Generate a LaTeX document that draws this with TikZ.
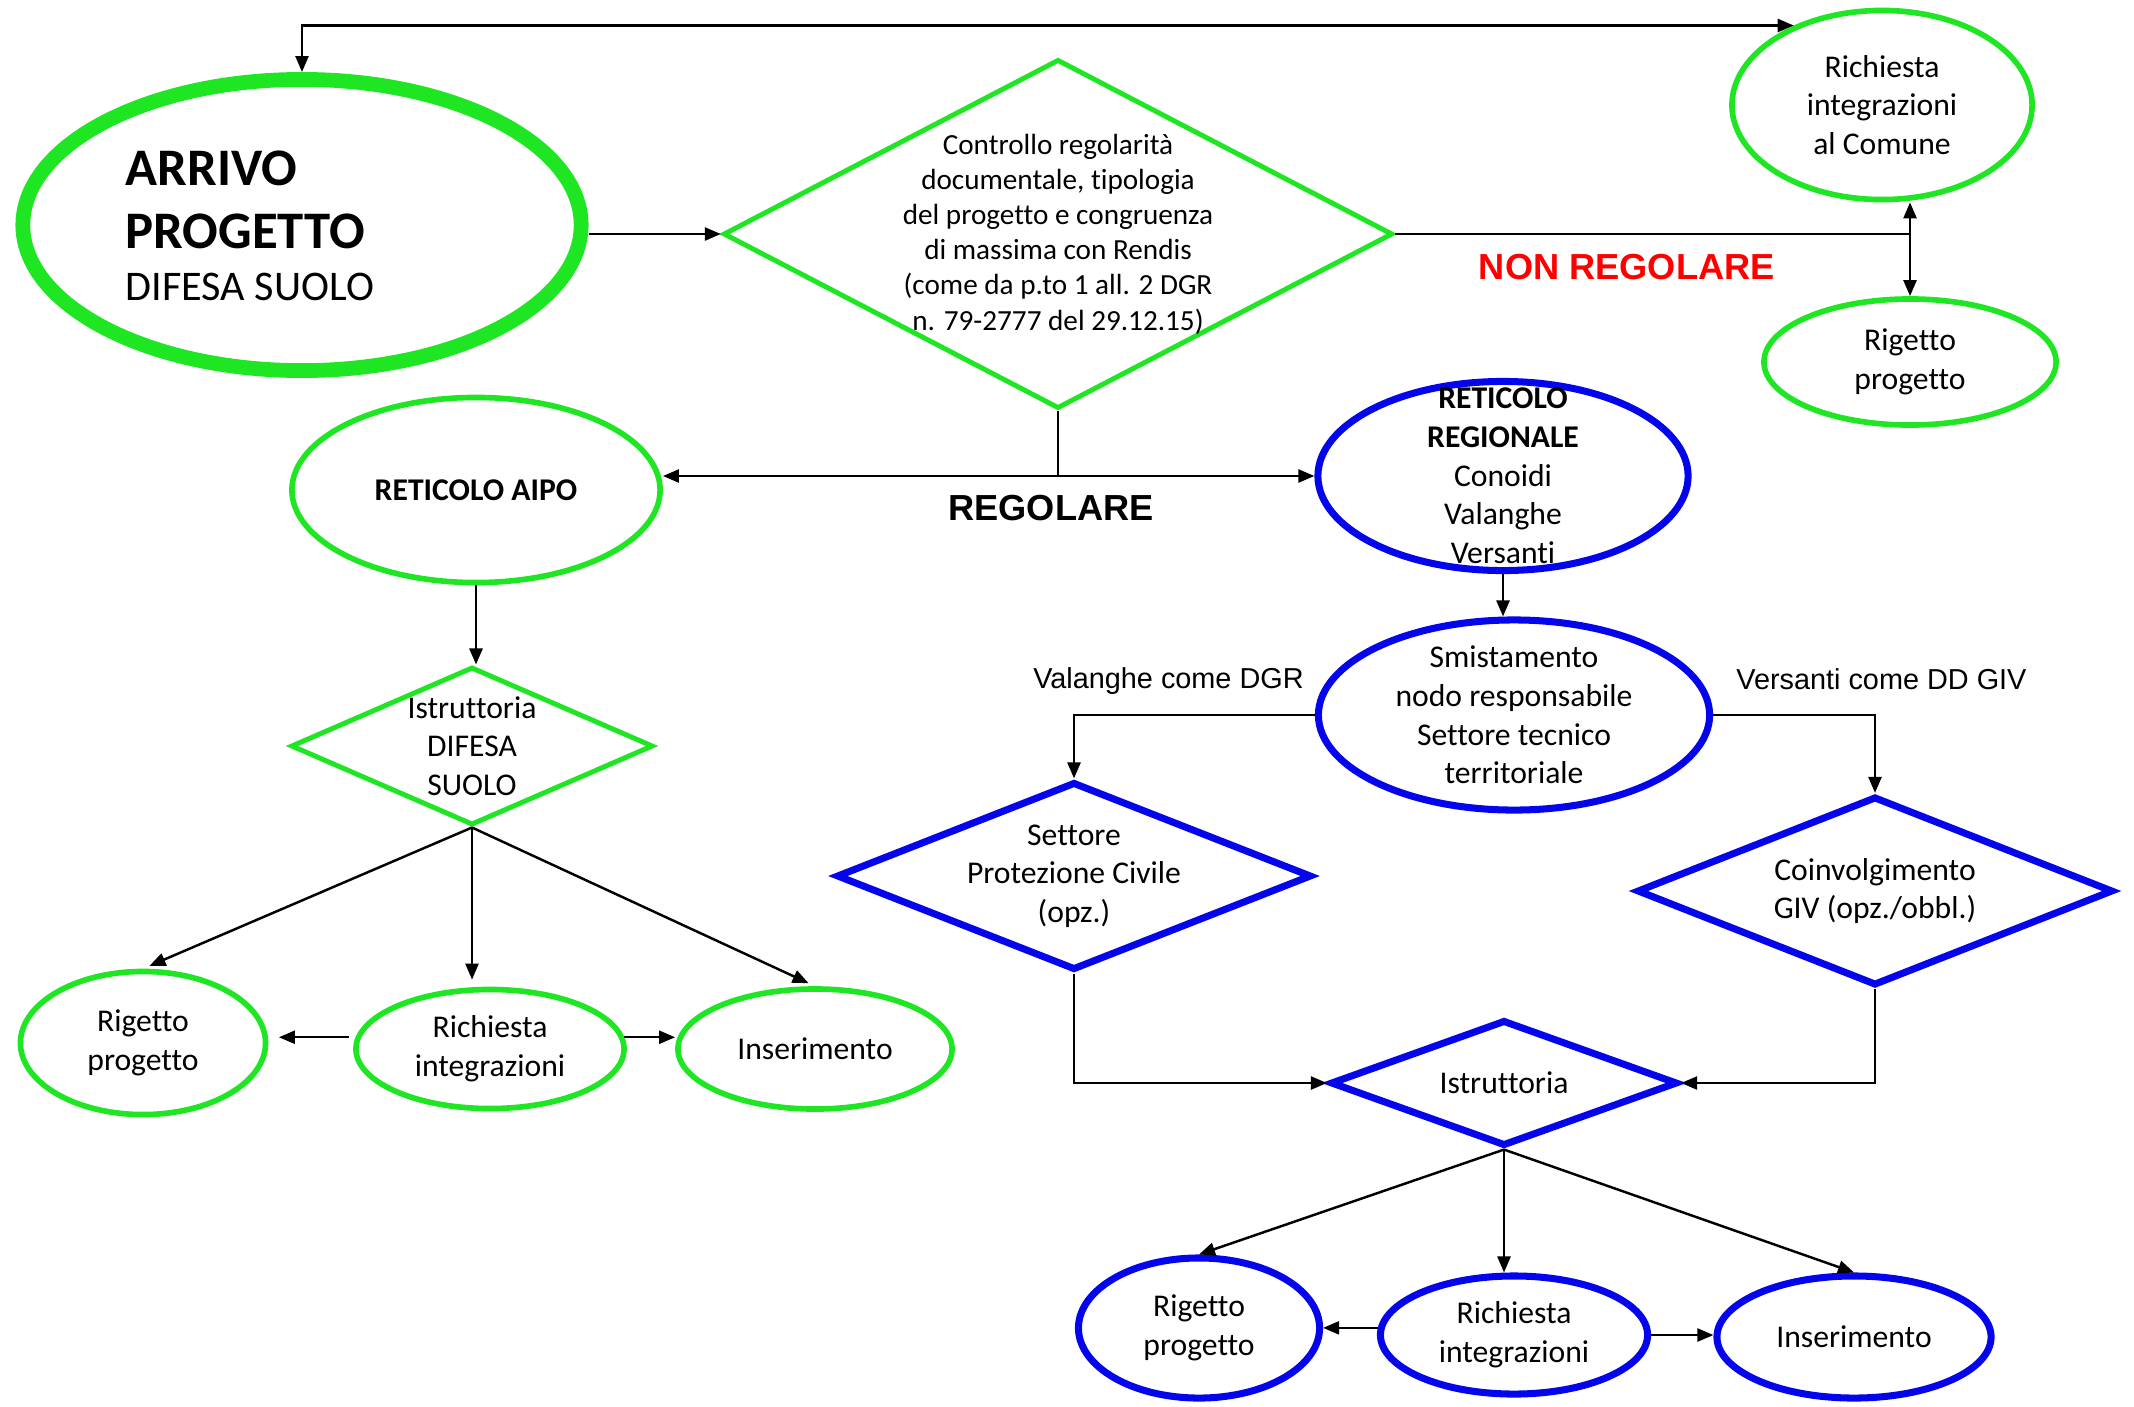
\documentclass[tikz,border=0pt]{standalone}
\usepackage{fontspec}
\setmainfont{Carlito}[Ligatures=NoCommon]
\newfontfamily\arialfont{Liberation Sans}
\usetikzlibrary{shapes.geometric,arrows.meta}
\definecolor{vgreen}{RGB}{30,230,35}
\definecolor{vblue}{RGB}{5,5,235}
\definecolor{vred}{RGB}{255,0,0}

\begin{document}
\begin{tikzpicture}[x=0.01cm, y=-0.01cm,
    >={Triangle[length=0.16cm,width=0.13cm]},
    conn/.style={line width=0.7pt},
    gell/.style={draw=vgreen, ellipse, line width=1.6pt, inner sep=0pt},
    bell/.style={draw=vblue, ellipse, line width=2pt, inner sep=0pt},
    gdia/.style={draw=vgreen, diamond, line width=1.4pt, inner sep=0pt},
    bdia/.style={draw=vblue, diamond, line width=2pt, inner sep=0pt},
    txt/.style={align=center, font=\fontsize{9}{11}\selectfont},
    lbl/.style={font=\arialfont\fontsize{8.2}{10}\selectfont, inner sep=0pt},
    esito/.style={font=\arialfont\bfseries\fontsize{10.3}{12}\selectfont, inner sep=0pt}]
    \useasboundingbox (0,0) rectangle (2134,1406);

    % Arrivo e controllo
    \node[gell, line width=4.2pt, minimum width=5.58cm, minimum height=2.91cm] (arr) at (302,225) {};
    \node[anchor=west, align=left, inner sep=0pt, font=\fontsize{15}{18}\selectfont] at (125,226)
        {\textbf{ARRIVO}\\\textbf{PROGETTO}\\[-3.3pt]{\fontsize{12}{14.5}\selectfont DIFESA SUOLO}};
    \node[gdia, minimum width=6.69cm, minimum height=3.49cm] (ctrl) at (1058,234) {};
    \node[txt, font=\fontsize{8.3}{10}\selectfont] at (ctrl) {Controllo regolarità\\documentale, tipologia\\del progetto e congruenza\\di massima con Rendis\\(come da p.to 1 all. 2 DGR\\n. 79-2777 del 29.12.15)};

    % Non regolare
    \node[gell, minimum width=3.00cm, minimum height=1.89cm] (richC) at (1882,105) {};
    \node[txt] at (richC) {Richiesta\\integrazioni\\al Comune};
    \node[gell, minimum width=2.92cm, minimum height=1.26cm] (rigT) at (1910,362) {};
    \node[txt] at (rigT) {Rigetto\\progetto};

    % Reticolo AIPO
    \node[gell, minimum width=3.68cm, minimum height=1.85cm] (aipo) at (476,490) {};
    \node[txt] at (aipo) {\textbf{RETICOLO AIPO}};
    \node[gdia, minimum width=3.62cm, minimum height=1.58cm] (istrA) at (472,746) {};
    \node[txt] at (istrA) {Istruttoria\\DIFESA\\SUOLO};
    \node[gell, minimum width=2.45cm, minimum height=1.43cm] (rigA) at (143,1043) {};
    \node[txt] at (rigA) {Rigetto\\progetto};
    \node[gell, minimum width=2.68cm, minimum height=1.19cm] (richA) at (490,1049) {};
    \node[txt] at (richA) {Richiesta\\integrazioni};
    \node[gell, minimum width=2.74cm, minimum height=1.20cm] (insA) at (815,1049) {};
    \node[txt] at (insA) {Inserimento};

    % Reticolo regionale
    \node[bell, minimum width=3.70cm, minimum height=1.89cm] (rreg) at (1503,476) {};
    \node[txt] at (rreg) {\textbf{RETICOLO}\\\textbf{REGIONALE}\\Conoidi\\Valanghe\\Versanti};
    \node[bell, minimum width=3.91cm, minimum height=1.90cm] (smist) at (1514,715) {};
    \node[txt] at (smist) {Smistamento\\nodo responsabile\\Settore tecnico\\territoriale};
    \node[bdia, minimum width=4.75cm, minimum height=1.88cm] (sett) at (1074,876) {};
    \node[txt] at (sett) {Settore\\Protezione Civile\\(opz.)};
    \node[bdia, minimum width=4.76cm, minimum height=1.89cm] (coin) at (1875,891) {};
    \node[txt] at (coin) {Coinvolgimento\\GIV (opz./obbl.)};
    \node[bdia, minimum width=3.47cm, minimum height=1.26cm] (istrB) at (1504,1083) {};
    \node[txt] at (istrB) {Istruttoria};
    \node[bell, minimum width=2.41cm, minimum height=1.40cm] (rigB) at (1199,1328) {};
    \node[txt] at (rigB) {Rigetto\\progetto};
    \node[bell, minimum width=2.67cm, minimum height=1.18cm] (richB) at (1514,1335) {};
    \node[txt] at (richB) {Richiesta\\integrazioni};
    \node[bell, minimum width=2.74cm, minimum height=1.22cm] (insB) at (1854,1337) {};
    \node[txt] at (insB) {Inserimento};

    % Collegamenti
    \draw[conn, <->] (arr.north) |- (richC.138);
    \draw[conn, ->] (ctrl.west -| arr.east) -- (ctrl.west);
    \coordinate (nr) at (ctrl.east -| rigT.north);
    \draw[conn] (ctrl.east) -- (nr) node[esito, pos=0.45, anchor=north, yshift=-0.19cm, text=vred] {NON REGOLARE};
    \draw[conn, <->] (rigT.north) -- (rigT.north |- richC.south);

    \coordinate (reg) at (ctrl.south |- rreg.west);
    \draw[conn] (ctrl.south) -- (reg) node[esito, anchor=north, xshift=-0.07cm, yshift=-0.18cm] {REGOLARE};
    \draw[conn, ->] (reg) -- (reg -| aipo.east);
    \draw[conn, ->] (reg) -- (rreg.west);

    \draw[conn, ->] (aipo.south) -- (aipo.south |- istrA.north);
    \draw[conn, ->, shorten >=2pt] (istrA.south) -- (rigA.north);
    \draw[conn, ->, shorten >=2pt] (istrA.south) -- (istrA.south |- richA.north);
    \draw[conn, ->, shorten >=2pt] (istrA.south) -- (insA.north);
    \draw[conn, ->, shorten <=2pt, shorten >=3pt] (richA.175) -- (richA.175 -| rigA.east);
    \draw[conn, ->] (richA.5) -- (richA.5 -| insA.west);

    \draw[conn, ->] (rreg.south) -- (rreg.south |- smist.north);
    \draw[conn, ->] (smist.west) -| (sett.north) node[lbl, pos=0, anchor=south east, xshift=-0.1cm, yshift=0.19cm] {Valanghe come DGR};
    \draw[conn, ->] (smist.east) -| (coin.north) node[lbl, pos=0, anchor=south west, xshift=0.22cm, yshift=0.24cm] {Versanti come DD GIV};
    \draw[conn, ->] (sett.south) |- (istrB.west);
    \draw[conn, ->] (coin.south) |- (istrB.east);
    \draw[conn, ->] (istrB.south) -- (rigB.north);
    \draw[conn, ->] (istrB.south) -- (istrB.south |- richB.north);
    \draw[conn, ->] (istrB.south) -- (insB.north);
    \draw[conn, ->] (richB.177) -- (richB.177 -| rigB.east);
    \draw[conn, ->] (richB.east) -- (richB.east -| insB.west);
\end{tikzpicture}
\end{document}
